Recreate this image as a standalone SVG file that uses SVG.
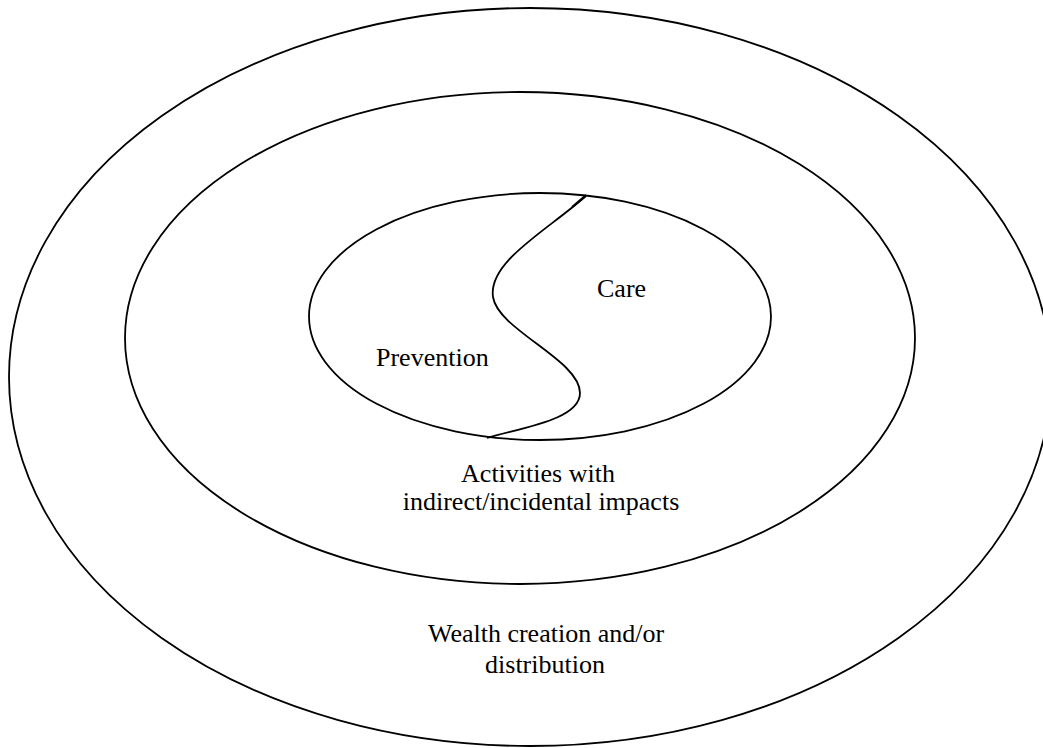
<svg xmlns="http://www.w3.org/2000/svg" width="1043" height="748" viewBox="0 0 1043 748">
<style>
.ring{fill:none;stroke:#000;stroke-width:1.8}
.lbl{font-family:"Liberation Serif","Times New Roman",serif;font-size:26px;fill:#000}
.c{text-anchor:middle}
</style>
<rect width="1043" height="748" fill="#fff"/>
<g id="outer">
<ellipse class="ring" cx="530" cy="377" rx="521" ry="369"/>
<text class="lbl c" x="546" y="642">Wealth creation and/or</text>
<text class="lbl c" x="545" y="673">distribution</text>
</g>
<g id="middle">
<ellipse class="ring" cx="520" cy="338" rx="395" ry="246"/>
<text class="lbl c" x="538" y="482">Activities with</text>
<text class="lbl c" x="541" y="510">indirect/incidental impacts</text>
</g>
<g id="inner">
<ellipse class="ring" cx="540" cy="316.5" rx="231" ry="123.5"/>
</g>
<g id="prevention">
<text class="lbl" x="376" y="366">Prevention</text>
</g>
<g id="care">
<text class="lbl" x="597" y="297">Care</text>
</g>
<g id="connectors">
<path class="ring" d="M586,196 C545,232 488,262 493,297 C498,330 580,360 580,393 C580,420 520,428 487,438"/>
<path class="ring" d="M586,195 L572,207"/>
</g>
</svg>
